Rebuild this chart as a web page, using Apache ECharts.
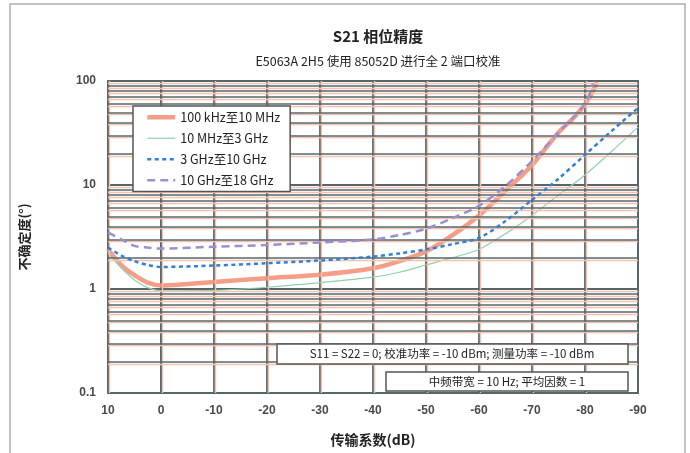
<!DOCTYPE html>
<html>
<head>
<meta charset="utf-8">
<script src="https://cdn.jsdelivr.net/npm/echarts@6/dist/echarts.min.js"></script>
<style>html,body{margin:0;padding:0;background:#fff;}#c{width:690px;height:453px;}</style>
</head>
<body>
<div id="c"></div>
<script>
// ---- data ----
const seriesNames = ['100 kHz至10 MHz', '10 MHz至3 GHz', '3 GHz至10 GHz', '10 GHz至18 GHz'];
const xTickLabels = ['10', '0', '-10', '-20', '-30', '-40', '-50', '-60', '-70', '-80', '-90'];
const yTickLabels = ['0.1', '1', '10', '100'];

const redX =   [10, 7.5, 5, 2.5, 0, -5, -10, -20, -30, -40, -45, -50, -55, -60, -65, -70, -75, -78, -80, -81.5, -82.2];
const redY =   [2.4, 1.7, 1.36, 1.15, 1.08, 1.12, 1.17, 1.27, 1.37, 1.58, 1.85, 2.3, 3.3, 5.1, 8.8, 15.5, 32, 45, 60, 80, 98];

const greenX = [10, 7.5, 5, 2.5, 0, -10, -20, -30, -40, -45, -50, -55, -60, -65, -70, -75, -80, -85, -90];
const greenY = [2.2, 1.6, 1.22, 1.03, 0.96, 0.97, 1.04, 1.15, 1.3, 1.45, 1.7, 2.0, 2.4, 3.4, 5.1, 8, 12.5, 21, 36];

const blueX =  [10, 7.5, 5, 2.5, 0, -10, -20, -30, -40, -45, -50, -55, -60, -65, -70, -75, -80, -85, -90];
const blueY =  [2.5, 2.1, 1.85, 1.7, 1.63, 1.68, 1.77, 1.88, 2.05, 2.2, 2.4, 2.7, 3.1, 4.5, 7.2, 11.5, 19.5, 33, 55];

const purpleX = [10, 7.5, 5, 2.5, 0, -10, -20, -30, -40, -45, -50, -55, -60, -65, -70, -75, -80, -81.5];
const purpleY = [3.5, 3.0, 2.6, 2.5, 2.45, 2.55, 2.65, 2.8, 3.0, 3.3, 3.8, 4.8, 6.3, 9.8, 17, 32, 60, 95];

const gridDecades = [0.1, 1, 10, 100];
const gridMinorSteps = [2, 3, 4, 5, 6, 7, 8, 9];
const gridXValues = [10, 0, -10, -20, -30, -40, -50, -60, -70, -80, -90];

const noteLine1 = 'S11 = S22 = 0; 校准功率 = -10 dBm; 测量功率 = -10 dBm';
const noteLine2 = '中频带宽 = 10 Hz; 平均因数 = 1';

// ---- build ----
function pairs(xs, ys) { return xs.map((x, i) => [x, ys[i]]); }
const minorLines = [];
gridDecades.slice(0, 3).forEach(d => gridMinorSteps.forEach(s => minorLines.push(+(d * s).toPrecision(3))));
const allHLines = minorLines.concat(gridDecades);
// faint salmon print-offset fringe beside each grid line (decoration)
const fringeH = allHLines.filter(v => v > 0.1).map(v => ({yAxis: v * 0.955}));
const fringeV = gridXValues.filter(v => v > -90).map(v => ({xAxis: v - 0.3}));

const CJK = '"Noto Sans CJK SC",sans-serif';
const gridColor = '#56676c';

const chart = echarts.init(document.getElementById('c'), null, {renderer: 'canvas'});
chart.setOption({
  backgroundColor: '#fff',
  animation: false,
  title: [{
    text: 'S21 相位精度',
    left: 373, top: 24, textAlign: 'center',
    textStyle: {fontFamily: CJK, fontSize: 15, fontWeight: 'bold', color: '#222'}
  }, {
    text: 'E5063A 2H5 使用 85052D 进行全 2 端口校准',
    left: 373, top: 50, textAlign: 'center',
    textStyle: {fontFamily: CJK, fontSize: 12.5, fontWeight: 'normal', color: '#222'}
  }],
  grid: {left: 108, right: 52, top: 81, bottom: 60, show: true, borderColor: gridColor, borderWidth: 1.8, backgroundColor: 'transparent'},
  legend: {
    data: seriesNames,
    orient: 'vertical',
    left: 133, top: 106, z: 20,
    backgroundColor: '#fff',
    borderColor: '#555', borderWidth: 1.5,
    padding: [5, 10, 5, 12],
    itemWidth: 28, itemHeight: 12, itemGap: 8.5,
    itemStyle: {opacity: 0},
    lineStyle: {width: 'inherit'},
    textStyle: {fontFamily: CJK, fontSize: 12.5, color: '#222'}
  },
  xAxis: {
    type: 'value', inverse: true, min: -90, max: 10, interval: 10,
    name: '传输系数(dB)', nameLocation: 'middle', nameGap: 40,
    nameTextStyle: {fontFamily: CJK, fontSize: 14, fontWeight: 'bold', color: '#222'},
    axisLine: {show: true, lineStyle: {color: gridColor, width: 1.8}},
    axisTick: {show: false},
    axisLabel: {margin: 12, fontFamily: '"Liberation Sans",sans-serif', fontWeight: 'bold', fontSize: 12, color: '#4a4a4a',
      formatter: v => xTickLabels[Math.round((10 - v) / 10)]},
    splitLine: {show: true, lineStyle: {color: gridColor, width: 1.8}}
  },
  yAxis: {
    type: 'log', logBase: 10, min: 0.1, max: 100,
    name: '不确定度(°)', nameLocation: 'middle', nameGap: 77, nameRotate: 90,
    nameTextStyle: {fontFamily: CJK, fontSize: 13, fontWeight: 'bold', color: '#222'},
    axisLine: {show: true, lineStyle: {color: gridColor, width: 1.8}},
    axisTick: {show: false},
    axisLabel: {margin: 12, fontFamily: '"Liberation Sans",sans-serif', fontWeight: 'bold', fontSize: 12, color: '#4a4a4a',
      formatter: v => { const i = yTickLabels.indexOf(String(+v.toPrecision(3))); return i >= 0 ? yTickLabels[i] : ''; }},
    splitLine: {show: true, lineStyle: {color: gridColor, width: 2.2}}
  },
  graphic: [
    {type: 'rect', shape: {x: 10, y: 4, width: 675, height: 470}, style: {fill: 'none', stroke: '#b0b0b0', lineWidth: 1.5}, silent: true, z: -10},
    {type: 'rect', z: 100, shape: {x: 277, y: 344, width: 351, height: 20}, style: {fill: '#fff', stroke: '#555', lineWidth: 1.5}},
    {type: 'text', z: 101, x: 452, y: 354, style: {text: noteLine1, fill: '#222', fontFamily: CJK, fontSize: 11.5, align: 'center', verticalAlign: 'middle'}},
    {type: 'rect', z: 100, shape: {x: 386, y: 372, width: 242, height: 19}, style: {fill: '#fff', stroke: '#555', lineWidth: 1.5}},
    {type: 'text', z: 101, x: 507, y: 382, style: {text: noteLine2, fill: '#222', fontFamily: CJK, fontSize: 11.5, align: 'center', verticalAlign: 'middle'}}
  ],
  series: [
    {
      name: '__fringe', type: 'line', data: [], silent: true, z: 1,
      markLine: {silent: true, symbol: 'none', label: {show: false}, animation: false,
        lineStyle: {color: '#f5c2ae', width: 1.4, type: 'solid'},
        data: fringeH.concat(fringeV)}
    },
    {
      name: '__grid', type: 'line', data: [], silent: true, z: 2,
      markLine: {silent: true, symbol: 'none', label: {show: false}, animation: false,
        lineStyle: {color: gridColor, width: 1.5, type: 'solid'},
        data: minorLines.map(v => ({yAxis: v}))}
    },
    {name: seriesNames[0], type: 'line', data: pairs(redX, redY), smooth: 0.3, symbol: 'none',
      lineStyle: {color: '#f4937a', width: 4.5, opacity: 0.9}, itemStyle: {color: '#f4937a'}, z: 3},
    {name: seriesNames[1], type: 'line', data: pairs(greenX, greenY), smooth: 0.3, symbol: 'none',
      lineStyle: {color: '#8fd1ac', width: 1.2}, itemStyle: {color: '#8fd1ac'}, z: 4},
    {name: seriesNames[2], type: 'line', data: pairs(blueX, blueY), smooth: 0.3, symbol: 'none',
      lineStyle: {color: '#2f80d8', width: 2.5, type: [4, 3.5]}, itemStyle: {color: '#2f80d8'}, z: 5},
    {name: seriesNames[3], type: 'line', data: pairs(purpleX, purpleY), smooth: 0.3, symbol: 'none',
      lineStyle: {color: '#9b8fd3', width: 2.5, type: [8, 5]}, itemStyle: {color: '#9b8fd3'}, z: 5}
  ]
});
</script>
</body>
</html>
